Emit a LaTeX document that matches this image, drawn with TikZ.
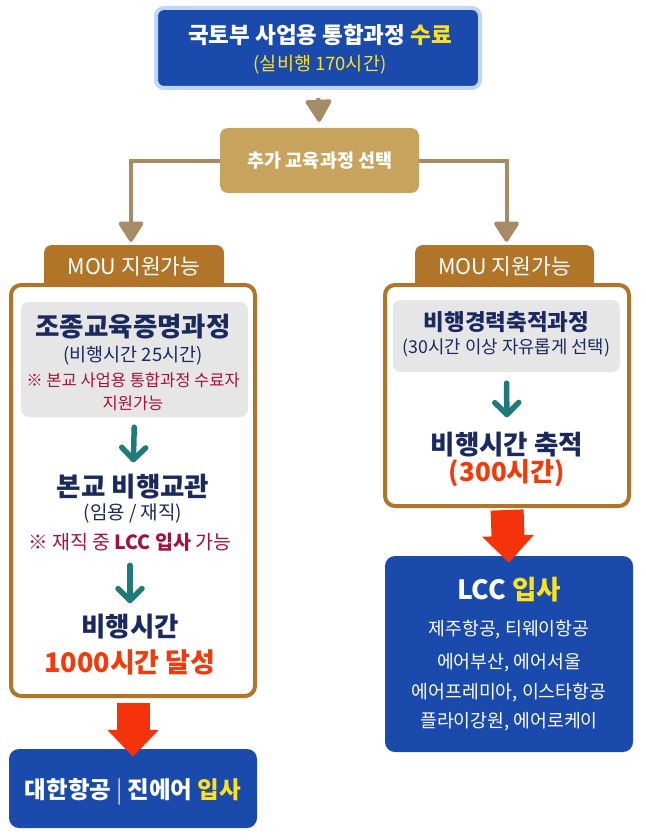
\documentclass[tikz,border=0pt]{standalone}
\usepackage{fontspec}
\setmainfont{Noto Sans CJK KR}
\usetikzlibrary{arrows.meta}

\definecolor{topblue}{HTML}{1B4AAD}
\definecolor{topedge}{HTML}{C0D5F8}
\definecolor{gold}{HTML}{FFE21C}
\definecolor{selfill}{HTML}{C8A35E}
\definecolor{linkcol}{HTML}{A68B66}
\definecolor{tabbrown}{HTML}{B1752A}
\definecolor{navy}{HTML}{1B2A5E}
\definecolor{crimson}{HTML}{A5113C}
\definecolor{tealcol}{HTML}{1F7A7A}
\definecolor{hot}{HTML}{F23B0B}
\definecolor{redarr}{HTML}{F4330B}
\definecolor{greyfill}{HTML}{E6E6E6}

\newcommand{\fsz}[1]{\fontsize{#1}{#1}\selectfont}

\tikzset{
  box/.style={rounded corners=8pt, inner sep=0pt, anchor=center},
  topbox/.style={box, fill=topblue, draw=topedge, line width=4pt},
  selbox/.style={box, fill=selfill},
  tabbox/.style={box, fill=tabbrown},
  panel/.style={box, rounded corners=10pt, fill=white, draw=tabbrown, line width=4pt},
  greybox/.style={box, fill=greyfill},
  bluebox/.style={box, rounded corners=10pt, fill=topblue},
  txt/.style={inner sep=0pt, anchor=center},
  link/.style={line width=4pt, draw=linkcol},
  turn/.style={line width=5.5pt, draw=tealcol, line cap=round,
    -{Straight Barb[length=12pt,width=24pt,round]}},
  redarrow/.style={line width=33pt, draw=redarr, -{Triangle[length=27pt,width=50pt]}}
}

\begin{document}
\begin{tikzpicture}[x=1pt,y=-1pt]
\useasboundingbox (0,0) rectangle (645,840);

% top of the chart
\node[topbox, minimum width=324pt, minimum height=80pt] (top) at (318,48) {};
\node[txt, text=white] (toptitle) at (320,35) {\fsz{22.5}\bfseries 국토부 사업용 통합과정 {\color{gold}수료}};
\node[txt, text=gold] (tophrs) at (320,65) {\fsz{18.5}(실비행 170시간)};

\node[selbox, minimum width=199pt, minimum height=65pt] (sel) at (319.5,160.5) {};
\node[txt, text=white] (seltxt) at (320,161) {\fsz{18.5}\bfseries 추가 교육과정 선택};

\draw[link, shorten <=8pt, shorten >=6pt, -{Triangle[length=24pt,width=28pt,round]}] (top.south) -- (sel.north);

% the two tabs
\node[tabbox, minimum width=180pt, minimum height=50pt] (ltab) at (134,270) {};
\node[tabbox, minimum width=179pt, minimum height=50pt] (rtab) at (504.5,270) {};

\draw[link, -{Triangle[length=22pt,width=27pt,round]}] (sel.west) -| ([xshift=-3pt,yshift=3pt]ltab.north);
\draw[link, -{Triangle[length=22pt,width=27pt,round]}] (sel.east) -| ([xshift=2pt,yshift=3pt]rtab.north);

% left column
\node[panel, minimum width=244pt, minimum height=411pt] (lpanel) at (133,490.5) {};
\node[txt, text=white] (ltabtxt) at (134,266) {\fsz{21.5}MOU 지원가능};
\node[greybox, minimum width=227pt, minimum height=115pt] (lgrey) at (134.5,359.5) {};
\node[txt, text=navy] (lcert) at (133,327) {\fsz{26.5}\bfseries 조종교육증명과정};
\node[txt, text=navy] (lcerthrs) at (133,356) {\fsz{18.5}(비행시간 25시간)};
\node[txt, text=crimson] (lnote) at (133,380) {\fsz{16.5}※ 본교 사업용 통합과정 수료자};
\node[txt, text=crimson] (lnotetwo) at (133,403) {\fsz{16.5}지원가능};

\node[txt, text=navy] (linstr) at (133,487) {\fsz{26.5}\bfseries 본교 비행교관};
\node[txt, text=navy] (linstrsub) at (133,513) {\fsz{19}(임용 / 재직)};
\node[txt, text=crimson] (linstrnote) at (130,542) {\fsz{19.5}※ 재직 중 {\bfseries LCC 입사} 가능};

\node[txt, text=navy] (lhrs) at (130,627) {\fsz{26.5}\bfseries 비행시간};
\node[txt, text=hot] (lgoal) at (130,662) {\fsz{27}\bfseries 1000시간 달성};

\draw[turn, shorten <=10pt, shorten >=12pt] (lgrey.south) -- (linstr.north);
\draw[turn, shorten <=14pt, shorten >=11pt] (linstrnote.south) -- (lhrs.north);

\node[bluebox, minimum width=248pt, minimum height=79pt] (lbot) at (133,788.5) {};
\node[txt, text=white] (lbottxt) at (133,792) {\fsz{23.5}\bfseries 대한항공\hspace{5pt}{\mdseries\color{white!75!topblue}|}\hspace{5pt}진에어 {\color{gold}입사}};
\draw[redarrow, shorten <=5pt] (lpanel.south) -- ([yshift=-8pt]lbot.north);

% right column
\node[panel, minimum width=244pt, minimum height=221pt] (rpanel) at (507,395.5) {};
\node[txt, text=white] (rtabtxt) at (504.5,266) {\fsz{21.5}MOU 지원가능};
\node[greybox, minimum width=227pt, minimum height=72pt] (rgrey) at (506.5,336) {};
\node[txt, text=navy] (rlog) at (506.5,322) {\fsz{22.5}\bfseries 비행경력축적과정};
\node[txt, text=navy] (rlogsub) at (506.5,348) {\fsz{17.8}(30시간 이상 자유롭게 선택)};

\node[txt, text=navy] (rhrs) at (507,445) {\fsz{26.5}\bfseries 비행시간 축적};
\node[txt, text=hot] (rgoal) at (507,473) {\fsz{26}\bfseries (300시간)};

\draw[turn, shorten <=11pt, shorten >=15pt] (rgrey.south) -- (rhrs.north);

\node[bluebox, minimum width=248pt, minimum height=196pt] (rbot) at (509,654) {};
\node[txt, text=white] (rbottitle) at (509,590) {\fsz{26.5}\bfseries LCC {\color{gold}입사}};
\node[txt, text=white] (rlccone) at (509,630) {\fsz{18.3}제주항공, 티웨이항공};
\node[txt, text=white] (rlcctwo) at (509,663) {\fsz{18.3}에어부산, 에어서울};
\node[txt, text=white] (rlccthree) at (509,693) {\fsz{18.3}에어프레미아, 이스타항공};
\node[txt, text=white] (rlccfour) at (509,722) {\fsz{18.3}플라이강원, 에어로케이};
\draw[redarrow, shorten <=2pt] (rpanel.south) -- ([yshift=-7pt]rbot.north);

\end{tikzpicture}
\end{document}
